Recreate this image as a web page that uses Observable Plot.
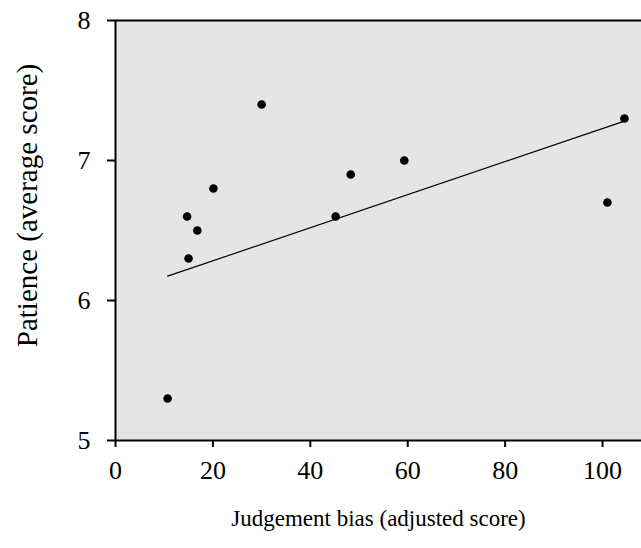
<!DOCTYPE html>
<html>
<head>
<meta charset="utf-8">
<script src="https://cdn.jsdelivr.net/npm/d3@7"></script>
<script src="https://cdn.jsdelivr.net/npm/@observablehq/plot@0.6"></script>
<style>
  html, body { margin: 0; padding: 0; background: #fff; }
  svg { display: block; }
</style>
</head>
<body>
<div id="chart"></div>
<script>
// Data
const biasScores = [10.7, 14.7, 16.8, 15.0, 20.1, 30.0, 45.2, 48.3, 59.3, 104.5, 101.0];
const patienceScores = [5.3, 6.6, 6.5, 6.3, 6.8, 7.4, 6.6, 6.9, 7.0, 7.3, 6.7];
// Fitted trend line endpoints as drawn in the picture
const fitX = [10.7, 104.5];
const fitY = [6.174, 7.281];
const xTicks = [0, 20, 40, 60, 80, 100];
const yTicks = [5, 6, 7, 8];
const xTitle = "Judgement bias (adjusted score)";
const yTitle = "Patience (average score)";

const points = biasScores.map((x, i) => ({x, y: patienceScores[i]}));
const fit = fitX.map((x, i) => ({x, y: fitY[i]}));

const chart = Plot.plot({
  width: 641,
  height: 548,
  marginLeft: 115,
  marginRight: 0,
  marginTop: 20,
  marginBottom: 108,
  style: {fontFamily: "'Liberation Serif', 'Times New Roman', serif", fontSize: "26px", color: "#000", background: "#fff"},
  x: {domain: [0, 108]},
  y: {domain: [5, 8]},
  marks: [
    Plot.frame({fill: "#e5e5e5", stroke: null}),
    Plot.ruleX([0], {stroke: "#000", strokeWidth: 2}),
    Plot.ruleY([5], {stroke: "#000", strokeWidth: 2}),
    Plot.ruleY([8], {stroke: "#000", strokeWidth: 2}),
    Plot.axisX({ticks: xTicks, tickSize: 7, tickPadding: 13, tickFormat: d => String(d), label: null, fontSize: 26, strokeWidth: 2}),
    Plot.axisY({ticks: yTicks, tickSize: 8, tickPadding: 17, tickFormat: d => String(d), label: null, fontSize: 26, strokeWidth: 2}),
    Plot.line(fit, {x: "x", y: "y", stroke: "#000", strokeWidth: 1.2}),
    Plot.dot(points, {x: "x", y: "y", r: 4.3, fill: "#000", stroke: null}),
    Plot.text([xTitle], {frameAnchor: "bottom", dy: 78, lineAnchor: "middle", textAnchor: "middle", fontSize: 23, fill: "#000"}),
    Plot.text([yTitle], {frameAnchor: "left", dx: -88, dy: -25, rotate: -90, lineAnchor: "middle", textAnchor: "middle", fontSize: 29, fill: "#000"})
  ]
});
document.getElementById("chart").appendChild(chart);
</script>
</body>
</html>
